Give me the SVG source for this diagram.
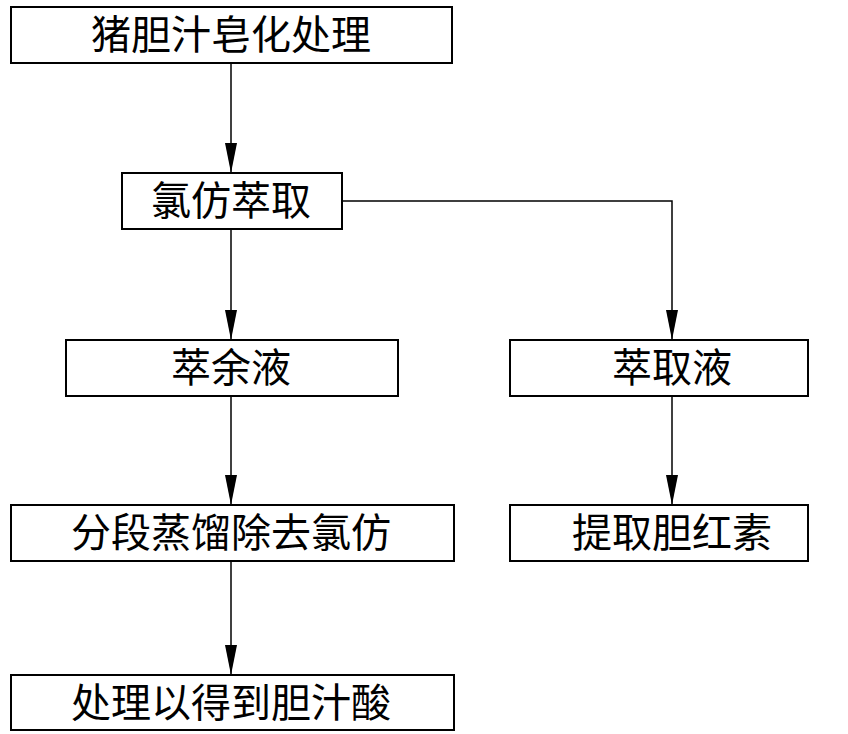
<svg xmlns="http://www.w3.org/2000/svg" width="848" height="734" viewBox="0 0 848 734">
<style>
rect{fill:#fff;stroke:#000;stroke-width:2}
text{font-family:"Noto Sans CJK SC",sans-serif;font-size:40px;text-anchor:middle;fill:#000}
.c{stroke:#000;stroke-width:1.5;fill:none;marker-end:url(#a)}
</style>
<defs><marker id="a" viewBox="0 0 30 12" refX="30" refY="6" markerWidth="30" markerHeight="12" markerUnits="userSpaceOnUse" orient="auto"><path d="M0,0 L30,6 L0,12 Z" fill="#000"/></marker></defs>
<rect width="848" height="734" style="stroke:none"/>
<g id="connectors">
<path class="c" d="M231,63 V173"/>
<path class="c" d="M231,229 V340"/>
<path class="c" d="M342,201 H672 V340"/>
<path class="c" d="M231,396 V505"/>
<path class="c" d="M672,396 V505"/>
<path class="c" d="M231,561 V675"/>
</g>
<g id="n1"><rect x="11" y="7" width="441" height="56"/><text x="231" y="49">猪胆汁皂化处理</text></g>
<g id="n2"><rect x="122" y="173" width="220" height="56"/><text x="231" y="215">氯仿萃取</text></g>
<g id="n3"><rect x="66" y="340" width="332" height="56"/><text x="231" y="382">萃余液</text></g>
<g id="n4"><rect x="510" y="340" width="298" height="56"/><text x="672" y="382">萃取液</text></g>
<g id="n5"><rect x="11" y="505" width="443" height="56"/><text x="231" y="547">分段蒸馏除去氯仿</text></g>
<g id="n6"><rect x="510" y="505" width="298" height="56"/><text x="672" y="547">提取胆红素</text></g>
<g id="n7"><rect x="11" y="675" width="443" height="55"/><text x="231" y="717">处理以得到胆汁酸</text></g>
</svg>
